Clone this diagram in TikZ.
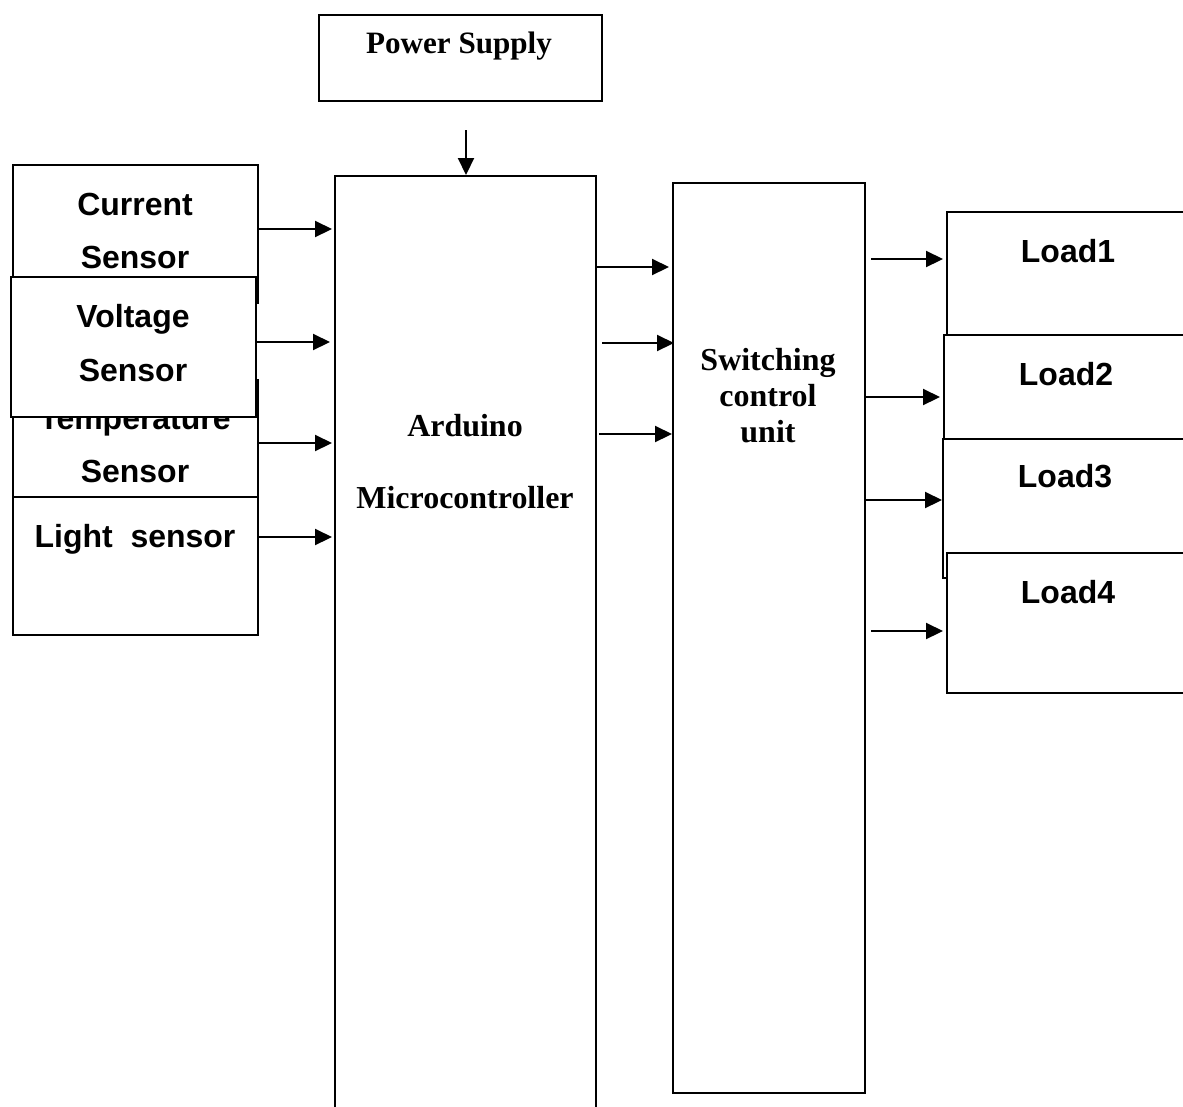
\documentclass[tikz,border=0pt]{standalone}
\usepackage{fontspec}
\setmainfont{Liberation Serif}
\newfontfamily\arialfont{Liberation Sans}
\usetikzlibrary{arrows.meta}
\tikzset{
  box/.style={draw=black, line width=1.2pt, fill=white, inner sep=0pt, anchor=north west},
  sanslbl/.style={font=\arialfont\bfseries\fontsize{18.2}{20}\selectfont, anchor=base, inner sep=0pt},
  seriflbl/.style={font=\bfseries\fontsize{18.2}{20}\selectfont, anchor=base, inner sep=0pt},
  pslbl/.style={font=\bfseries\fontsize{17.7}{20}\selectfont, anchor=base, inner sep=0pt},
  arr/.style={line width=1.2pt, -{Triangle[length=0.34cm,width=0.32cm]}},
}
\begin{document}
\begin{tikzpicture}[x=0.02cm, y=-0.02cm]
\clip (0,0) rectangle (1183,1106);
\fill[white] (0,0) rectangle (1183,1106);
% Power supply
\node[box, minimum width=5.66cm, minimum height=1.72cm] (ps) at (318,14) {};
\node[pslbl] (pst) at (459,53) {Power Supply};
% Arduino (open at bottom)
\node[box, minimum width=5.22cm, minimum height=19.2cm] (ard) at (334,175) {};
\node[seriflbl] (ardt1) at (465,436) {Arduino};
\node[seriflbl] (ardt2) at (465,508) {Microcontroller};
% Switching control unit
\node[box, minimum width=3.84cm, minimum height=18.2cm] (sw) at (672,182) {};
\node[seriflbl] (swt1) at (768,370) {Switching};
\node[seriflbl] (swt2) at (768,406) {control};
\node[seriflbl] (swt3) at (768,442) {unit};
% Sensors
\node[box, minimum width=4.9cm, minimum height=2.76cm] (cur) at (12,164) {};
\node[sanslbl] (curt1) at (135,215) {Current};
\node[sanslbl] (curt2) at (135,268) {Sensor};
\node[box, minimum width=4.9cm, minimum height=2.78cm] (tmp) at (12,379) {};
\node[sanslbl] (tmpt1) at (135,429) {Temperature};
\node[sanslbl] (tmpt2) at (135,482) {Sensor};
\node[box, minimum width=4.9cm, minimum height=2.76cm] (lig) at (12,496) {};
\node[sanslbl] (ligt) at (135,547) {Light\ \ sensor};
\node[box, minimum width=4.9cm, minimum height=2.8cm] (vol) at (10,276) {};
\node[sanslbl] (volt1) at (133,327) {Voltage};
\node[sanslbl] (volt2) at (133,381) {Sensor};
% Loads
\node[box, minimum width=5.2cm, minimum height=2.8cm] (l1) at (946,211) {};
\node[sanslbl] (l1t) at (1068,262) {Load1};
\node[box, minimum width=5.2cm, minimum height=2.08cm] (l2) at (943,334) {};
\node[sanslbl] (l2t) at (1066,385) {Load2};
\node[box, minimum width=5.2cm, minimum height=2.78cm] (l3) at (942,438) {};
\node[sanslbl] (l3t) at (1065,487) {Load3};
\node[box, minimum width=5.2cm, minimum height=2.8cm] (l4) at (946,552) {};
\node[sanslbl] (l4t) at (1068,603) {Load4};
% level coordinates
\coordinate (ypw) at (466,130);
\coordinate (y1) at (0,229);
\coordinate (y2) at (0,342);
\coordinate (y3) at (0,443);
\coordinate (y4) at (0,537);
\coordinate (z1) at (0,267);
\coordinate (z2) at (0,343);
\coordinate (z3) at (0,434);
\coordinate (w1) at (0,259);
\coordinate (w2) at (0,397);
\coordinate (w3) at (0,500);
\coordinate (w4) at (0,631);
% Connectors
\draw[arr] (ypw) -- (ypw |- ard.north);
\draw[arr] (cur.east |- y1) -- ([xshift=-0.04cm]ard.west |- y1);
\draw[arr] (vol.east |- y2) -- ([xshift=-0.08cm]ard.west |- y2);
\draw[arr] (tmp.east |- y3) -- ([xshift=-0.04cm]ard.west |- y3);
\draw[arr] (lig.east |- y4) -- ([xshift=-0.04cm]ard.west |- y4);
\draw[arr] (ard.east |- z1) -- ([xshift=-0.06cm]sw.west |- z1);
\draw[arr] ([xshift=0.1cm]ard.east |- z2) -- ([xshift=0.04cm]sw.west |- z2);
\draw[arr] ([xshift=0.04cm]ard.east |- z3) -- (sw.west |- z3);
\draw[arr] ([xshift=0.1cm]sw.east |- w1) -- ([xshift=-0.06cm]l1.west |- w1);
\draw[arr] (sw.east |- w2) -- ([xshift=-0.06cm]l2.west |- w2);
\draw[arr] (sw.east |- w3) -- (l3.west |- w3);
\draw[arr] ([xshift=0.1cm]sw.east |- w4) -- ([xshift=-0.06cm]l4.west |- w4);
\end{tikzpicture}
\end{document}
